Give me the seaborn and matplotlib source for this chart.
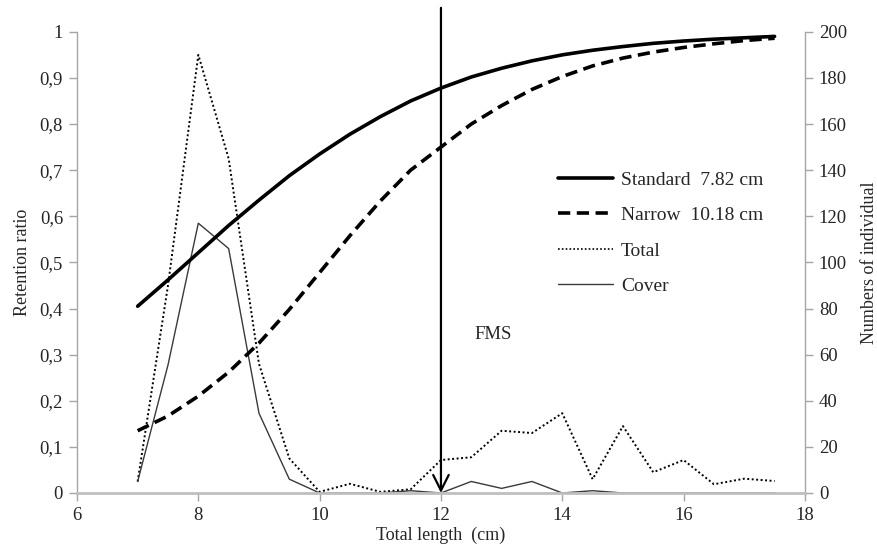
import matplotlib
matplotlib.use("Agg")
import matplotlib.pyplot as plt
from matplotlib.ticker import FuncFormatter
from matplotlib.lines import Line2D
import seaborn as sns
import pandas as pd

# Length classes (cm)
length_cm = [7.0, 7.5, 8.0, 8.5, 9.0, 9.5, 10.0, 10.5, 11.0, 11.5, 12.0,
             12.5, 13.0, 13.5, 14.0, 14.5, 15.0, 15.5, 16.0, 16.5, 17.0, 17.5]

# Selectivity (retention) curves
standard_ret = [0.405, 0.462, 0.521, 0.580, 0.635, 0.688, 0.735, 0.778,
                0.816, 0.850, 0.878, 0.902, 0.921, 0.937, 0.950, 0.960,
                0.968, 0.975, 0.980, 0.984, 0.987, 0.990]
narrow_ret = [0.135, 0.167, 0.210, 0.262, 0.325, 0.398, 0.478, 0.558,
              0.633, 0.700, 0.750, 0.800, 0.840, 0.875, 0.903, 0.926,
              0.943, 0.956, 0.966, 0.974, 0.981, 0.986]

# Catch numbers per length class
total_n = [5, 90, 190, 145, 56, 15, 0.5, 4, 0.5, 1.6, 14.3, 15.5, 27, 26,
           34.6, 6, 29, 9, 14.3, 3.8, 6.2, 5.2]
cover_n = [5, 55.5, 117, 106, 34.6, 6, 0, 0, 0, 1, 0, 5, 2, 5, 0, 1,
           0, 0, 0, 0, 0, 0]

left_ticks = [0, 0.1, 0.2, 0.3, 0.4, 0.5, 0.6, 0.7, 0.8, 0.9, 1.0]
right_ticks = [0, 20, 40, 60, 80, 100, 120, 140, 160, 180, 200]
x_ticks = [6, 8, 10, 12, 14, 16, 18]

fms_length = 12.0

df = pd.DataFrame({"length": length_cm, "standard": standard_ret,
                   "narrow": narrow_ret, "total": total_n, "cover": cover_n})

sns.set_style("white")
plt.rcParams["font.family"] = ["Liberation Serif", "DejaVu Serif"]
plt.rcParams["font.size"] = 13

fig = plt.figure(figsize=(8.77, 5.53), dpi=100)
ax = fig.add_axes([0.0878, 0.1085, 0.830, 0.834])
ax2 = ax.twinx()

axis_grey = "#a6a6a6"
dash_style = (0, (3.4, 1.8))
dot_style = (0, (1, 1.3))

# Catch numbers on the secondary axis
sns.lineplot(data=df, x="length", y="total", ax=ax2, color="black",
             linestyle=dot_style, linewidth=1.4, label="Total", legend=False)
sns.lineplot(data=df, x="length", y="cover", ax=ax2, color="#3a3a3a",
             linewidth=1.0, label="Cover", legend=False)

# Retention curves on the primary axis
sns.lineplot(data=df, x="length", y="standard", ax=ax, color="black",
             linewidth=2.6, label="Standard  7.82 cm", legend=False)
sns.lineplot(data=df, x="length", y="narrow", ax=ax, color="black",
             linewidth=2.6, linestyle=dash_style,
             label="Narrow  10.18 cm", legend=False)

ax.set_zorder(ax2.get_zorder() + 1)
ax.patch.set_visible(False)

ax.set_xlim(6, 18)
ax.set_ylim(0, 1)
ax2.set_ylim(0, 200)
ax.set_xticks(x_ticks)
ax.set_yticks(left_ticks)
ax2.set_yticks(right_ticks)
ax.yaxis.set_major_formatter(
    FuncFormatter(lambda v, p: ("%g" % round(v, 1)).replace(".", ",")))

ax.set_xlabel("Total length  (cm)", fontsize=13, labelpad=2)
ax.set_ylabel("Retention ratio", fontsize=13, labelpad=6)
ax2.set_ylabel("Numbers of individual", fontsize=13, labelpad=10)

for a in (ax, ax2):
    for s in a.spines.values():
        s.set_visible(False)
ax.spines["left"].set_visible(True)
ax.spines["left"].set_color(axis_grey)
ax.spines["left"].set_linewidth(1.0)
ax.spines["bottom"].set_visible(True)
ax.spines["bottom"].set_color("#bfbfbf")
ax.spines["bottom"].set_linewidth(2.0)
ax2.spines["right"].set_visible(True)
ax2.spines["right"].set_color(axis_grey)
ax2.spines["right"].set_linewidth(1.0)

ax.tick_params(axis="y", direction="out", length=6, width=1.0,
               color=axis_grey, labelsize=13.5, pad=4, left=True)
ax.tick_params(axis="x", direction="out", length=6, width=1.0,
               color=axis_grey, labelsize=13.5, pad=4, bottom=True)
ax2.tick_params(axis="y", direction="out", length=6, width=1.0,
                color=axis_grey, labelsize=13.5, pad=4, right=True)

# FMS marker
ax.annotate("", xy=(fms_length, 0), xytext=(fms_length, 1.052),
            xycoords="data", annotation_clip=False,
            arrowprops=dict(arrowstyle="->", color="black", lw=1.6,
                            mutation_scale=28, shrinkA=0, shrinkB=0))
ax.text(12.55, 0.343, "FMS", fontsize=13.5, ha="left", va="center")

handles = [
    Line2D([], [], color="black", linewidth=2.6),
    Line2D([], [], color="black", linewidth=2.6, linestyle=dash_style),
    Line2D([], [], color="black", linewidth=1.2, linestyle=dot_style),
    Line2D([], [], color="#3a3a3a", linewidth=1.0),
]
labels = ["Standard  7.82 cm", "Narrow  10.18 cm", "Total", "Cover"]
ax.legend(handles, labels, loc="upper left", bbox_to_anchor=(0.65, 0.715),
          frameon=False, fontsize=14, handlelength=2.85, handletextpad=0.4,
          labelspacing=0.92, borderaxespad=0)

fig.savefig("out.png", dpi=100)
